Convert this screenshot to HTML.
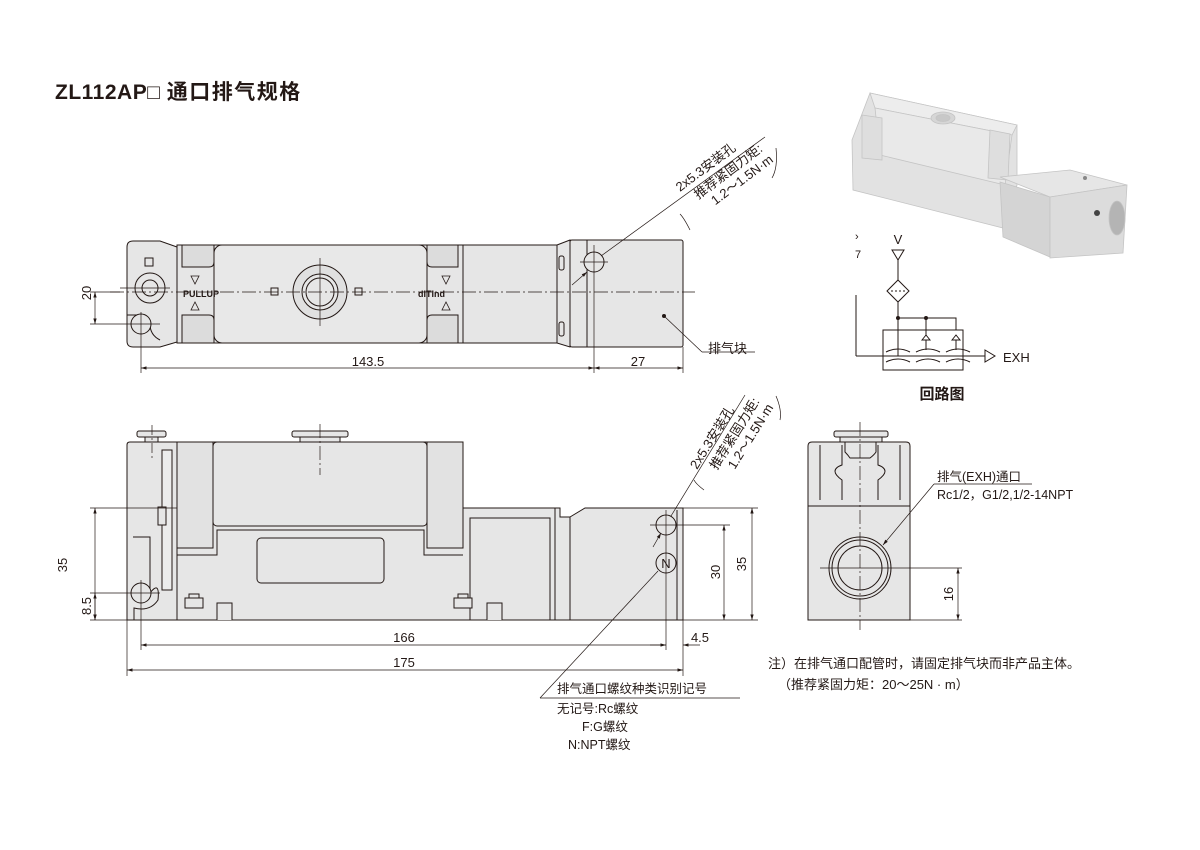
<!DOCTYPE html>
<html><head><meta charset="utf-8"><style>
html,body{margin:0;padding:0;background:#fff;}
svg{display:block;}
text{font-family:"Liberation Sans","Noto Sans CJK SC",sans-serif;fill:#231815;}
</style></head><body>
<svg width="1200" height="850" viewBox="0 0 1200 850" xmlns="http://www.w3.org/2000/svg">
<defs>
<marker id="a" viewBox="0 0 10 10" refX="10" refY="5" markerWidth="8" markerHeight="8" orient="auto-start-reverse"><path d="M0,2 L10,5 L0,8 z" fill="#231815"/></marker>
</defs>
<text x="55" y="99" font-size="21" font-weight="bold" letter-spacing="0.5">ZL112AP□ <tspan letter-spacing="1.5">通口排气规格</tspan></text>

<!-- ========== TOP VIEW ========== -->
<g stroke="#231815" stroke-width="1" fill="#e6e6e6">
<path d="M133,241 H160 L177,247 V342 L160,347 H133 Q127,347 127,341 V247 Q127,241 133,241 Z"/>
<rect x="177" y="245" width="393" height="98"/>
<rect x="214" y="245" width="213" height="98" rx="8" fill="#e8e8e8"/>
<path d="M177,245 H214 V262 Q214,267 209,267 H182 V245" fill="#dcdcdc"/>
<path d="M177,343 H214 V320 Q214,315 209,315 H182 V343" fill="#dcdcdc"/>
<path d="M463,245 H427 V262 Q427,267 432,267 H458 V245" fill="#dcdcdc"/>
<path d="M463,343 H427 V320 Q427,315 432,315 H458 V343" fill="#dcdcdc"/>
<line x1="463" y1="245" x2="463" y2="343"/>
<path d="M557,245 L570,240 V347 L557,343 Z"/>
<rect x="570" y="240" width="113" height="107" rx="2"/>
<line x1="587" y1="240" x2="587" y2="347"/>
<rect x="559" y="256" width="5" height="14" rx="2"/>
<rect x="559" y="322" width="5" height="14" rx="2"/>
<circle cx="320" cy="292" r="27" fill="#e0e0e0"/>
<circle cx="320" cy="292" r="18" fill="#e6e6e6"/>
<circle cx="320" cy="292" r="14"/>
<circle cx="150" cy="288" r="15"/>
<circle cx="150" cy="288" r="8"/>
<path d="M127,315 H137 Q150,315 150,324 Q150,335 160,340" fill="none"/>
<circle cx="141" cy="324" r="10"/>
<circle cx="594" cy="262" r="10"/>
<rect x="145" y="258" width="8" height="8" fill="none"/>
<rect x="271" y="288" width="7" height="7" fill="none"/>
<rect x="355" y="288" width="7" height="7" fill="none"/>
</g>
<g fill="#231815" font-size="9" font-weight="bold"><text x="183" y="297">PULLUP</text><text x="418" y="297">dITInd</text></g>
<g font-size="9" fill="none" stroke="#231815" stroke-width="0.8">
<path d="M191,276 h8 l-4,8z"/><path d="M191,310 h8 l-4,-8z"/><path d="M442,276 h8 l-4,8z"/><path d="M442,310 h8 l-4,-8z"/>
</g>
<g stroke="#231815" stroke-width="0.7" fill="none">
<path d="M110,292 H695" stroke-dasharray="14,3,2,3"/>
<line x1="320" y1="258" x2="320" y2="326"/>
<line x1="90" y1="324" x2="160" y2="324"/>
<line x1="120" y1="288" x2="170" y2="288"/>
<line x1="141" y1="312" x2="141" y2="373"/>
<line x1="594" y1="245" x2="594" y2="373"/>
<line x1="683" y1="347" x2="683" y2="373"/>
<line x1="580" y1="262" x2="608" y2="262"/>
<line x1="90" y1="292" x2="120" y2="292"/>
<line x1="95" y1="292" x2="95" y2="324" marker-start="url(#a)" marker-end="url(#a)"/>
<line x1="141" y1="368" x2="594" y2="368" marker-start="url(#a)" marker-end="url(#a)"/>
<line x1="594" y1="368" x2="683" y2="368" marker-start="url(#a)" marker-end="url(#a)"/>
<line x1="572" y1="285" x2="587" y2="272" marker-end="url(#a)"/>
<line x1="601" y1="256" x2="765" y2="137" />
<line x1="664" y1="316" x2="702" y2="352"/>
<line x1="702" y1="352" x2="755" y2="352"/>
<path d="M690,230 q-6,-12 -10,-16"/>
<path d="M772,178 q6,-10 4,-30"/>
</g>
<circle cx="664" cy="316" r="2" fill="#231815"/>
<text transform="translate(91,293) rotate(-90)" font-size="13" text-anchor="middle">20</text>
<text x="368" y="366" font-size="13" text-anchor="middle">143.5</text>
<text x="638" y="366" font-size="13" text-anchor="middle">27</text>
<text x="708" y="353" font-size="13">排气块</text>
<g transform="translate(680,192) rotate(-37)" font-size="13">
<text x="0" y="0">2x5.3安装孔</text>
<text x="10" y="17">推荐紧固力矩:</text>
<text x="20" y="32">1.2～1.5N·m</text>
</g>

<!-- ========== FRONT VIEW ========== -->
<g stroke="#231815" stroke-width="1" fill="#e6e6e6">
<rect x="137" y="431" width="29" height="6" rx="2"/>
<rect x="145" y="437" width="13" height="5"/>
<rect x="292" y="431" width="56" height="6" rx="2"/>
<rect x="300" y="437" width="40" height="5"/>
<path d="M130,442 H177 V620 H127 V445 Q127,442 130,442 Z"/>
<rect x="177" y="442" width="286" height="90"/>
<rect x="177" y="508" width="378" height="112"/>
<path d="M177,530 H213 V525 H427 V530 H463 V548 H427 V555 H213 V548 H177 Z" fill="#e6e6e6" stroke="none"/>
<path d="M177,555 H217 V530 H424 V555 H463"/>
<rect x="177" y="442" width="36" height="106" fill="#e2e2e2"/>
<rect x="427" y="442" width="36" height="106" fill="#e2e2e2"/>
<rect x="213" y="442" width="214" height="84" rx="4"/>
<rect x="257" y="538" width="127" height="45" rx="4"/>
<rect x="470" y="518" width="80" height="102"/>
<path d="M555,508 H560 V517 H570 V620 H555 Z"/>
<path d="M570,517 L585,508 H683 V620 H570 Z"/>
<line x1="677" y1="510" x2="677" y2="620"/>
<rect x="162" y="450" width="10" height="140" fill="#ececec"/>
<rect x="158" y="507" width="8" height="18"/>
<path d="M133,537 H150 V550 V593 Q160,580 158,600 Q150,612 134,608 V620" fill="none"/>
<circle cx="141" cy="593" r="10"/>
<rect x="185" y="598" width="18" height="10"/><rect x="189" y="594" width="10" height="4"/>
<rect x="454" y="598" width="18" height="10"/><rect x="458" y="594" width="10" height="4"/>
<path d="M217,620 V603 H232 V620"/><path d="M487,620 V603 H502 V620"/>
<circle cx="666" cy="525" r="10"/>
<circle cx="666" cy="563" r="10" fill="#e6e6e6"/>
</g>
<text x="666" y="568" font-size="13" text-anchor="middle">N</text>
<g stroke="#231815" stroke-width="0.7" fill="none">
<line x1="152" y1="425" x2="152" y2="460" stroke-dasharray="10,3,2,3"/>
<line x1="320" y1="424" x2="320" y2="475" stroke-dasharray="14,3,2,3"/>
<line x1="90" y1="508" x2="177" y2="508"/>
<line x1="90" y1="593" x2="160" y2="593"/>
<line x1="90" y1="620" x2="127" y2="620"/>
<line x1="127" y1="620" x2="127" y2="676"/>
<line x1="141" y1="580" x2="141" y2="650"/>
<line x1="666" y1="510" x2="666" y2="650"/>
<line x1="683" y1="620" x2="683" y2="676"/>
<line x1="650" y1="525" x2="730" y2="525"/>
<line x1="683" y1="508" x2="758" y2="508"/>
<line x1="683" y1="620" x2="758" y2="620"/>
<line x1="95" y1="508" x2="95" y2="620" marker-start="url(#a)" marker-end="url(#a)"/>
<line x1="95" y1="593" x2="95" y2="620" marker-start="url(#a)" marker-end="url(#a)"/>
<line x1="141" y1="645" x2="666" y2="645" marker-start="url(#a)" marker-end="url(#a)"/>
<line x1="700" y1="645" x2="683" y2="645" marker-end="url(#a)"/>
<line x1="650" y1="645" x2="666" y2="645"/>
<line x1="127" y1="670" x2="683" y2="670" marker-start="url(#a)" marker-end="url(#a)"/>
<line x1="724" y1="525" x2="724" y2="620" marker-start="url(#a)" marker-end="url(#a)"/>
<line x1="752" y1="508" x2="752" y2="620" marker-start="url(#a)" marker-end="url(#a)"/>
<line x1="653" y1="547" x2="661" y2="533" marker-end="url(#a)"/>
<line x1="671" y1="516" x2="745" y2="395"/>
<line x1="658" y1="571" x2="540" y2="698"/>
<line x1="540" y1="698" x2="740" y2="698"/>
<path d="M704,490 q-8,-6 -10,-10"/>
<path d="M780,420 q2,-10 -4,-24"/>
</g>
<text transform="translate(67,565) rotate(-90)" font-size="13" text-anchor="middle">35</text>
<text transform="translate(91,606) rotate(-90)" font-size="13" text-anchor="middle">8.5</text>
<text x="404" y="642" font-size="13" text-anchor="middle">166</text>
<text x="700" y="642" font-size="13" text-anchor="middle">4.5</text>
<text x="404" y="667" font-size="13" text-anchor="middle">175</text>
<text transform="translate(720,572) rotate(-90)" font-size="13" text-anchor="middle">30</text>
<text transform="translate(746,564) rotate(-90)" font-size="13" text-anchor="middle">35</text>
<g transform="translate(697,470) rotate(-58)" font-size="13">
<text x="0" y="0">2x5.3安装孔</text>
<text x="10" y="17">推荐紧固力矩:</text>
<text x="20" y="32">1.2～1.5N·m</text>
</g>
<text x="557" y="693" font-size="12.5">排气通口螺纹种类识别记号</text>
<text x="557" y="713" font-size="12.5">无记号:Rc螺纹</text>
<text x="582" y="731" font-size="12.5">F:G螺纹</text>
<text x="568" y="749" font-size="12.5">N:NPT螺纹</text>

<!-- ========== SIDE VIEW ========== -->
<g stroke="#231815" stroke-width="1" fill="#e6e6e6">
<rect x="834" y="431" width="54" height="6" rx="2"/>
<rect x="840" y="437" width="42" height="5"/>
<path d="M812,442 H906 Q910,442 910,446 V510 H808 V446 Q808,442 812,442 Z"/>
<path d="M820,445 V500 M900,445 V500 M842,445 V465 Q828,470 842,480 V500 M878,445 V465 Q892,470 878,480 V500 M845,442 V452 Q848,455 850,458 H870 Q874,455 876,452 V442" fill="none"/>
<rect x="808" y="506" width="102" height="114"/>
<circle cx="860" cy="568" r="31"/>
<circle cx="860" cy="568" r="28"/>
<circle cx="860" cy="568" r="22"/>
</g>
<g stroke="#231815" stroke-width="0.7" fill="none">
<line x1="860" y1="422" x2="860" y2="630" stroke-dasharray="14,3,2,3"/>
<line x1="820" y1="568" x2="962" y2="568"/>
<line x1="910" y1="620" x2="962" y2="620"/>
<line x1="958" y1="568" x2="958" y2="620" marker-start="url(#a)" marker-end="url(#a)"/>
<line x1="934" y1="484" x2="883" y2="545" marker-end="url(#a)"/>
<line x1="934" y1="484" x2="1032" y2="484"/>
</g>
<text transform="translate(953,594) rotate(-90)" font-size="13" text-anchor="middle">16</text>
<text x="937" y="481" font-size="12.5">排气(EXH)通口</text>
<text x="937" y="499" font-size="12.5">Rc1/2，G1/2,1/2-14NPT</text>

<text x="768" y="668" font-size="13">注）在排气通口配管时，请固定排气块而非产品主体。</text>
<text x="778" y="689" font-size="13">（推荐紧固力矩：20～25N · m）</text>

<!-- ========== PHOTO ========== -->
<g stroke="#c4c4c4" stroke-width="0.8">
<!-- main module -->
<path d="M870,93 L1017,125 L1017,185 L1003,228 L853,190 L852,140 Z" fill="#e2e2e2"/>
<path d="M870,93 L1017,125 L1012,135 L875,108 Z" fill="#ededed"/>
<path d="M875,108 L1012,135 L1005,185 L880,155 Z" fill="#e9e9e9"/>
<path d="M862,115 L882,118 L882,160 L862,158 Z" fill="#dedede"/>
<path d="M990,130 L1010,134 L1008,180 L988,178 Z" fill="#dedede"/>
<ellipse cx="943" cy="118" rx="12" ry="6" fill="#d6d6d6"/>
<ellipse cx="943" cy="118" rx="7" ry="3.5" fill="#c8c8c8"/>
<!-- exhaust block -->
<path d="M1000,177 L1070,170 L1127,185 L1050,197 Z" fill="#e6e6e6"/>
<path d="M1000,182 L1050,197 L1050,257 L1003,237 Z" fill="#d4d4d4"/>
<path d="M1050,197 L1127,185 L1123,253 L1050,258 Z" fill="#dcdcdc"/>
<ellipse cx="1117" cy="218" rx="8" ry="17" fill="#b4b4b4"/>
</g>
<circle cx="1097" cy="213" r="3" fill="#444"/>
<circle cx="1085" cy="178" r="2" fill="#888"/>

<!-- ========== CIRCUIT ========== -->
<text x="898" y="244" font-size="13" text-anchor="middle">V</text>
<text x="855" y="240" font-size="11">›</text>
<text x="855" y="258" font-size="11">7</text>
<g stroke="#231815" stroke-width="1" fill="none">
<path d="M892,250 H904 L898,260 Z"/>
<line x1="898" y1="260" x2="898" y2="280"/>
<path d="M898,280 L909,291 L898,302 L887,291 Z"/>
<line x1="891" y1="291" x2="905" y2="291" stroke-dasharray="2,2"/>
<line x1="898" y1="302" x2="898" y2="356"/>
<path d="M898,318 H956 V330"/>
<line x1="926" y1="318" x2="926" y2="335"/>
<rect x="883" y="330" width="80" height="40"/>
<path d="M922,340 l4,-5 l4,5 z M952,340 l4,-5 l4,5 z"/>
<line x1="926" y1="340" x2="926" y2="350"/><line x1="956" y1="340" x2="956" y2="350"/>
<line x1="856" y1="295" x2="856" y2="356"/>
<line x1="856" y1="356" x2="985" y2="356"/>
<path d="M985,350 L995,356 L985,362 Z"/>
<path d="M886,352 q12,-6 24,0 M916,352 q12,-6 24,0 M946,352 q12,-6 24,0"/>
<path d="M886,362 q12,-6 24,0 M916,362 q12,-6 24,0 M946,362 q12,-6 24,0"/>
</g>
<circle cx="898" cy="318" r="2" fill="#231815"/>
<circle cx="926" cy="318" r="2" fill="#231815"/>
<text x="1003" y="362" font-size="13">EXH</text>
<text x="942" y="399" font-size="15" font-weight="bold" text-anchor="middle">回路图</text>
</svg>
</body></html>
